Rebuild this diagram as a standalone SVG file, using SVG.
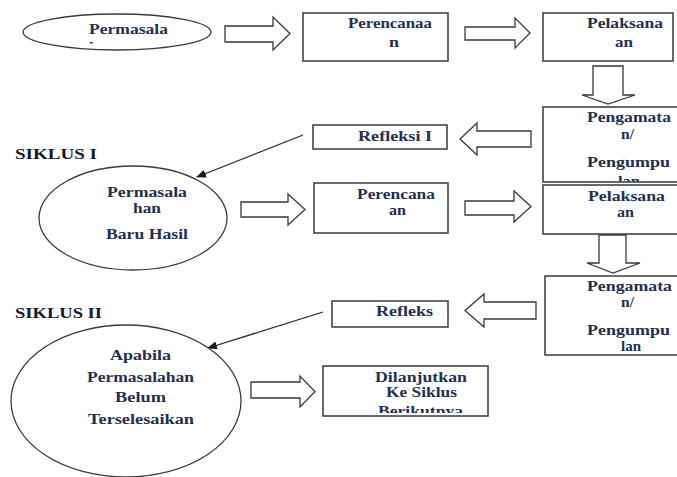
<svg xmlns="http://www.w3.org/2000/svg" width="677" height="477" viewBox="0 0 677 477">
<style>
.sh{fill:#fff;stroke:#3a3a3a;stroke-width:1.3}
.bx{fill:#fff;stroke:#3a3a3a;stroke-width:1.5}
.ba{fill:#fff;stroke:#3a3a3a;stroke-width:1.3;stroke-linejoin:miter}
.ln{stroke:#2a2a2a;stroke-width:1.3;fill:none}
text{font-family:"Liberation Serif","Times New Roman",serif;font-size:15px;font-weight:bold;fill:#24304f}
.hd{font-size:15px;fill:#15192a}
</style>
<defs>
<marker id="ah" markerWidth="10" markerHeight="8" refX="9" refY="4" orient="auto" markerUnits="userSpaceOnUse">
<path d="M0,0 L10,4 L0,8 z" fill="#1a1a1a"/>
</marker>
<clipPath id="c1"><rect x="0" y="0" width="677" height="43.5"/></clipPath>
<clipPath id="c2"><rect x="540" y="105" width="140" height="76.5"/></clipPath>
<clipPath id="c3"><rect x="320" y="364" width="170" height="49"/></clipPath>
</defs>
<rect width="677" height="477" fill="#fff"/>

<g id="connectors">
<polygon class="ba" points="225,26 273,26 273,17 290,33.5 273,50 273,42 225,42"/>
<polygon class="ba" points="465,27 515,27 515,18 530,33 515,48 515,40 465,40"/>
<polygon class="ba" points="593,66 623,66 623,95 635,95 608,104 582,95 593,95"/>
<polygon class="ba" points="460,139 477,123 477,131 531,131 531,147 477,147 477,155"/>
<line class="ln" x1="303" y1="135" x2="197" y2="177" marker-end="url(#ah)"/>
<polygon class="ba" points="241,202 288,202 288,194 305,209.5 288,225 288,217 241,217"/>
<polygon class="ba" points="465,201 514,201 514,191 531,206.5 514,222 514,215 465,215"/>
<polygon class="ba" points="599,235 626,235 626,263 640,263 613,273 587,263 599,263"/>
<polygon class="ba" points="465,310.5 484,294 484,302 536,302 536,319 484,319 484,327"/>
<line class="ln" x1="323" y1="312" x2="208" y2="348" marker-end="url(#ah)"/>
<polygon class="ba" points="251,382 300,382 300,376 315,391.5 300,407 300,398 251,398"/>
</g>

<g id="permasalahan1">
<ellipse class="sh" cx="117" cy="32" rx="94" ry="18"/>
<text x="89" y="34" textLength="79" lengthAdjust="spacingAndGlyphs">Permasala</text>
<text x="89" y="52" textLength="28" lengthAdjust="spacingAndGlyphs" clip-path="url(#c1)">han</text>
</g>

<g id="perencanaan1">
<rect class="bx" x="303" y="13" width="145" height="48"/>
<text x="348" y="28" textLength="84" lengthAdjust="spacingAndGlyphs">Perencanaa</text>
<text x="389" y="47" textLength="10" lengthAdjust="spacingAndGlyphs">n</text>
</g>

<g id="pelaksanaan1">
<rect class="bx" x="543" y="13" width="130" height="48"/>
<text x="587" y="28" textLength="76" lengthAdjust="spacingAndGlyphs">Pelaksana</text>
<text x="615" y="47" textLength="18" lengthAdjust="spacingAndGlyphs">an</text>
</g>

<g id="pengamatan1">
<rect class="bx" x="543" y="107" width="150" height="75"/>
<g clip-path="url(#c2)">
<text x="587" y="122" textLength="84" lengthAdjust="spacingAndGlyphs">Pengamata</text>
<text x="621" y="139" textLength="13" lengthAdjust="spacingAndGlyphs">n/</text>
<text x="587" y="167" textLength="83" lengthAdjust="spacingAndGlyphs">Pengumpu</text>
<text x="618" y="186" textLength="22" lengthAdjust="spacingAndGlyphs">lan</text>
</g>
</g>

<g id="refleksi1">
<rect class="bx" x="313" y="125" width="134" height="24"/>
<text x="358" y="141" textLength="74" lengthAdjust="spacingAndGlyphs">Refleksi I</text>
</g>

<g id="siklus1">
<text class="hd" x="15" y="159" textLength="82" lengthAdjust="spacingAndGlyphs">SIKLUS I</text>
</g>

<g id="permasalahan2">
<ellipse class="sh" cx="133" cy="218" rx="94" ry="52"/>
<text x="107" y="197" textLength="80" lengthAdjust="spacingAndGlyphs">Permasala</text>
<text x="133" y="213" textLength="28" lengthAdjust="spacingAndGlyphs">han</text>
<text x="106" y="239" textLength="82" lengthAdjust="spacingAndGlyphs">Baru Hasil</text>
</g>

<g id="perencanaan2">
<rect class="bx" x="314" y="183" width="134" height="50"/>
<text x="357" y="199" textLength="78" lengthAdjust="spacingAndGlyphs">Perencana</text>
<text x="389" y="215" textLength="17" lengthAdjust="spacingAndGlyphs">an</text>
</g>

<g id="pelaksanaan2">
<rect class="bx" x="543" y="185" width="150" height="49"/>
<text x="588" y="201" textLength="77" lengthAdjust="spacingAndGlyphs">Pelaksana</text>
<text x="617" y="217" textLength="17" lengthAdjust="spacingAndGlyphs">an</text>
</g>

<g id="pengamatan2">
<rect class="bx" x="545" y="276" width="150" height="79"/>
<text x="587" y="291" textLength="85" lengthAdjust="spacingAndGlyphs">Pengamata</text>
<text x="621" y="307" textLength="13" lengthAdjust="spacingAndGlyphs">n/</text>
<text x="587" y="335" textLength="83" lengthAdjust="spacingAndGlyphs">Pengumpu</text>
<text x="621" y="351" textLength="20" lengthAdjust="spacingAndGlyphs">lan</text>
</g>

<g id="refleks">
<rect class="bx" x="332" y="301" width="116" height="26"/>
<text x="376" y="316" textLength="57" lengthAdjust="spacingAndGlyphs">Refleks</text>
</g>

<g id="siklus2">
<text class="hd" x="15" y="318" textLength="87" lengthAdjust="spacingAndGlyphs">SIKLUS II</text>
</g>

<g id="permasalahan3">
<ellipse class="sh" cx="126" cy="401" rx="115" ry="76"/>
<text x="110" y="360" textLength="61" lengthAdjust="spacingAndGlyphs">Apabila</text>
<text x="87" y="382" textLength="107" lengthAdjust="spacingAndGlyphs">Permasalahan</text>
<text x="115" y="402" textLength="51" lengthAdjust="spacingAndGlyphs">Belum</text>
<text x="88" y="424" textLength="106" lengthAdjust="spacingAndGlyphs">Terselesaikan</text>
</g>

<g id="dilanjutkan">
<rect class="bx" x="323" y="366" width="165" height="50"/>
<g clip-path="url(#c3)">
<text x="375" y="382" textLength="92" lengthAdjust="spacingAndGlyphs">Dilanjutkan</text>
<text x="386" y="397" textLength="71" lengthAdjust="spacingAndGlyphs">Ke Siklus</text>
<text x="378" y="416" textLength="85" lengthAdjust="spacingAndGlyphs">Berikutnya</text>
</g>
</g>
</svg>
